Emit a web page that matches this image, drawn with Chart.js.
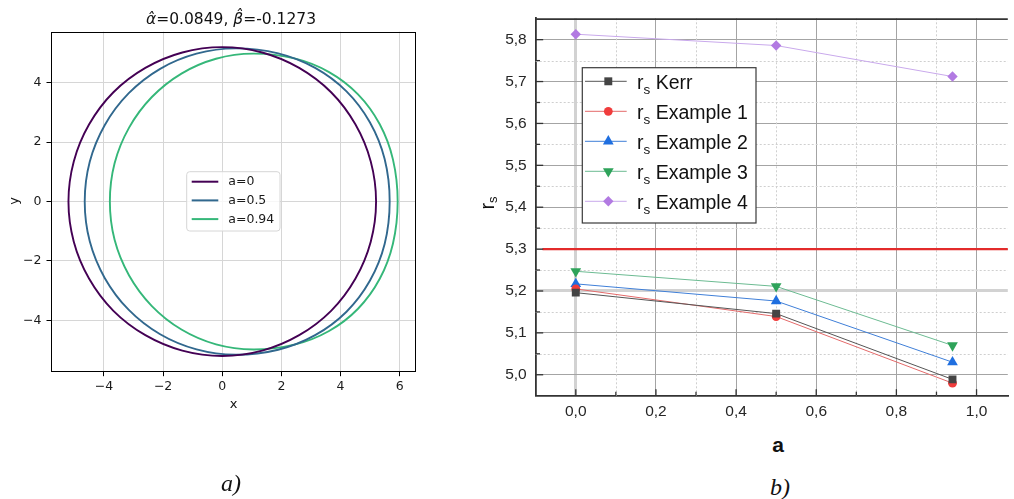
<!DOCTYPE html>
<html>
<head>
<meta charset="utf-8">
<style>
  html, body { margin: 0; padding: 0; background: #fff; }
  #page { position: relative; width: 1014px; height: 499px; overflow: hidden; }
  canvas { position: absolute; top: 0; }
  .lbl { position: absolute; white-space: nowrap; line-height: 1; transform: translate(-50%, -50%); color: #111; }
  .lbl sub { font-size: 65%; vertical-align: -0.25em; }
</style>
</head>
<body>
<div id="page">
  <canvas id="shadow" width="440" height="420" style="left:0"></canvas>
  <canvas id="radius" width="534" height="430" style="left:480px"></canvas>

  <div class="lbl" style="left:231px; top:19px; font: 15.5px 'DejaVu Sans'"><i>α̂</i>=0.0849, <i>β̂</i>=-0.1273</div>
  <div class="lbl" style="left:233.5px; top:403px; font: 13px 'DejaVu Sans'">x</div>
  <div class="lbl" style="left:12.5px; top:201px; font: 13px 'DejaVu Sans'; transform: translate(-50%,-50%) rotate(-90deg)">y</div>
  <div class="lbl" style="left:231px; top:483px; font: italic 24px 'Liberation Serif'">a)</div>

  <div class="lbl" style="left:488px; top:203px; font: 20px 'Liberation Sans'; transform: translate(-50%,-50%) rotate(-90deg)">r<sub>s</sub></div>
  <div class="lbl" style="left:778px; top:445px; font: bold 21px 'Liberation Sans'">a</div>
  <div class="lbl" style="left:780px; top:487px; font: italic 24px 'Liberation Serif'">b)</div>
</div>

<script src="https://cdn.jsdelivr.net/npm/chart.js"></script>
<script>
  // ---- left panel: shadow contours (x, y), closed curves ----
  const spinLabels = ['a=0', 'a=0.5', 'a=0.94'];

  const contourX_a0 = [5.2, 5.02, 4.5, 3.68, 2.6, 1.35, 0, -1.35, -2.6, -3.68, -4.5, -5.02, -5.2,
                       -5.02, -4.5, -3.68, -2.6, -1.35, 0, 1.35, 2.6, 3.68, 4.5, 5.02];
  const contourY_a0 = [0, 1.35, 2.6, 3.68, 4.5, 5.02, 5.2, 5.02, 4.5, 3.68, 2.6, 1.35, 0,
                       -1.35, -2.6, -3.68, -4.5, -5.02, -5.2, -5.02, -4.5, -3.68, -2.6, -1.35];

  const contourX_a05 = [5.66, 5.49, 4.99, 4.2, 3.14, 1.89, 0.45, -0.87, -2.1, -3.16, -3.97, -4.48, -4.65,
                        -4.48, -3.97, -3.16, -2.1, -0.87, 0.45, 1.89, 3.14, 4.2, 4.99, 5.49];
  const contourY_a05 = [0, 1.43, 2.67, 3.71, 4.5, 4.99, 5.16, 4.98, 4.47, 3.65, 2.58, 1.34, 0,
                        -1.34, -2.58, -3.65, -4.47, -4.98, -5.16, -4.99, -4.5, -3.71, -2.67, -1.43];

  const contourX_a094 = [5.93, 5.77, 5.32, 4.59, 3.61, 2.44, 1.05, -0.21, -1.38, -2.38, -3.15, -3.64, -3.8,
                         -3.64, -3.15, -2.38, -1.38, -0.21, 1.05, 2.44, 3.61, 4.59, 5.32, 5.77];
  const contourY_a094 = [0, 1.42, 2.61, 3.61, 4.36, 4.82, 4.98, 4.81, 4.31, 3.52, 2.49, 1.29, 0,
                         -1.29, -2.49, -3.52, -4.31, -4.81, -4.98, -4.82, -4.36, -3.61, -2.61, -1.42];

  const xTicksLeft = [-4, -2, 0, 2, 4, 6];
  const yTicksLeft = [-4, -2, 0, 2, 4];

  // ---- right panel: r_s against a ----
  const aValues = [0, 0.5, 0.94];
  const rsKerr = [5.196, 5.146, 4.989];
  const rsEx1 = [5.205, 5.139, 4.980];
  const rsEx2 = [5.217, 5.176, 5.030];
  const rsEx3 = [5.247, 5.211, 5.070];
  const rsEx4 = [5.813, 5.786, 5.712];
  const refA = [-0.083, 1.08];
  const refRs = [5.3, 5.3];

  const xTicksRight = [0, 0.2, 0.4, 0.6, 0.8, 1.0];
  const yTicksRight = [5.0, 5.1, 5.2, 5.3, 5.4, 5.5, 5.6, 5.7, 5.8];
  const xMinorRight = [0.1, 0.3, 0.5, 0.7, 0.9];
  const yMinorRight = [5.05, 5.15, 5.25, 5.35, 5.45, 5.55, 5.65, 5.75];

  const toPoints = (xs, ys) => xs.map((v, i) => ({ x: v, y: ys[i] }));
  const minus = v => String(v).replace('-', '\u2212');

  // ---------- left chart ----------
  const spinColors = ['#440154', '#31688e', '#35b779'];
  const contours = [[contourX_a0, contourY_a0], [contourX_a05, contourY_a05], [contourX_a094, contourY_a094]];

  // make each contour line a closed loop (as the radar chart does)
  const closeLoops = {
    id: 'closeLoops',
    afterDatasetsUpdate(chart) {
      chart.getSortedVisibleDatasetMetas().forEach(meta => {
        const line = meta.dataset;
        line._loop = true;
        line._fullLoop = true;
        line._pointsUpdated = false;
        delete line._segments;
        delete line._path;
      });
    }
  };

  const leftDecor = {
    id: 'leftDecor',
    afterDraw(chart) {
      const { ctx, chartArea: a } = chart;
      ctx.save();
      // frame
      ctx.strokeStyle = '#000';
      ctx.lineWidth = 1;
      ctx.strokeRect(Math.round(a.left) + 0.5, Math.round(a.top) + 0.5,
                     Math.round(a.right - a.left) - 1, Math.round(a.bottom - a.top) - 1);
      // legend box
      const bx = 186.7, by = 171.7, bw = 93.3, bh = 59.3, rr = 3;
      ctx.beginPath();
      ctx.moveTo(bx + rr, by);
      ctx.arcTo(bx + bw, by, bx + bw, by + bh, rr);
      ctx.arcTo(bx + bw, by + bh, bx, by + bh, rr);
      ctx.arcTo(bx, by + bh, bx, by, rr);
      ctx.arcTo(bx, by, bx + bw, by, rr);
      ctx.closePath();
      ctx.fillStyle = 'rgba(255,255,255,0.8)';
      ctx.fill();
      ctx.strokeStyle = '#d6d6d6';
      ctx.stroke();
      ctx.font = "12.5px 'DejaVu Sans'";
      ctx.textBaseline = 'middle';
      spinLabels.forEach((lab, i) => {
        const ly = 181.7 + i * 18.7;
        ctx.strokeStyle = spinColors[i];
        ctx.lineWidth = 2;
        ctx.beginPath();
        ctx.moveTo(191.7, ly);
        ctx.lineTo(218.3, ly);
        ctx.stroke();
        ctx.fillStyle = '#1a1a1a';
        ctx.fillText(lab, 228.3, ly + 0.5);
      });
      ctx.restore();
    }
  };

  new Chart(document.getElementById('shadow'), {
    type: 'scatter',
    data: {
      datasets: contours.map((c, i) => ({
        label: spinLabels[i],
        data: toPoints(c[0], c[1]),
        showLine: true,
        spanGaps: true,
        borderColor: spinColors[i],
        borderWidth: 1.9,
        pointRadius: 0,
        tension: 0.33
      }))
    },
    options: {
      responsive: false,
      animation: false,
      devicePixelRatio: 1,
      layout: { padding: { top: 31.7, right: 24, left: 0, bottom: 0 } },
      plugins: { legend: { display: false }, tooltip: { enabled: false } },
      scales: {
        x: {
          type: 'linear', min: -5.79, max: 6.55,
          afterFit: s => { s.height = 48.3; },
          afterBuildTicks: s => { s.ticks = xTicksLeft.map(v => ({ value: v })); },
          ticks: { color: '#1a1a1a', font: { family: 'DejaVu Sans', size: 12.5 }, padding: 3, callback: minus },
          grid: { color: '#d6d6d6', lineWidth: 1, tickColor: '#000', tickLength: 4.5, tickWidth: 1 },
          border: { display: false }
        },
        y: {
          type: 'linear', min: -5.73, max: 5.72,
          afterFit: s => { s.width = 51; },
          afterBuildTicks: s => { s.ticks = yTicksLeft.map(v => ({ value: v })); },
          ticks: { color: '#1a1a1a', font: { family: 'DejaVu Sans', size: 12.5 }, padding: 5, callback: minus },
          grid: { color: '#d6d6d6', lineWidth: 1, tickColor: '#000', tickLength: 4.5, tickWidth: 1 },
          border: { display: false }
        }
      }
    },
    plugins: [closeLoops, leftDecor]
  });

  // ---------- right chart ----------
  const seriesStyle = [
    { name: 'Kerr',      values: rsKerr, line: '#555555', fill: '#444444', shape: 'rect',     r: 5.6, rot: 0 },
    { name: 'Example 1', values: rsEx1,  line: '#e46a6a', fill: '#f03c3c', shape: 'circle',   r: 4.4, rot: 0 },
    { name: 'Example 2', values: rsEx2,  line: '#3f7fd8', fill: '#1f6fe0', shape: 'triangle', r: 6.2, rot: 0 },
    { name: 'Example 3', values: rsEx3,  line: '#6cbb92', fill: '#2ea35a', shape: 'triangle', r: 6.2, rot: 180 },
    { name: 'Example 4', values: rsEx4,  line: '#c9a9ec', fill: '#b27ae2', shape: 'rectRot',  r: 5.2, rot: 0 }
  ];

  function drawMarker(ctx, shape, x, y, r, rot) {
    ctx.beginPath();
    if (shape === 'rect') {
      const s = r * Math.SQRT1_2;
      ctx.rect(x - s, y - s, 2 * s, 2 * s);
    } else if (shape === 'circle') {
      ctx.arc(x, y, r, 0, Math.PI * 2);
    } else if (shape === 'triangle') {
      let ang = rot * Math.PI / 180;
      for (let k = 0; k < 3; k++) {
        const px = x + Math.sin(ang) * r, py = y - Math.cos(ang) * r;
        k ? ctx.lineTo(px, py) : ctx.moveTo(px, py);
        ang += Math.PI * 2 / 3;
      }
    } else {
      ctx.moveTo(x - r, y); ctx.lineTo(x, y - r); ctx.lineTo(x + r, y); ctx.lineTo(x, y + r);
    }
    ctx.closePath();
    ctx.fill();
  }

  const rightDecor = {
    id: 'rightDecor',
    beforeDatasetsDraw(chart) {
      const { ctx, chartArea: a, scales: { x, y } } = chart;
      ctx.save();
      ctx.setLineDash([2, 2]);
      ctx.strokeStyle = '#cfcfcf';
      ctx.lineWidth = 1;
      xMinorRight.forEach(v => {
        const px = Math.round(x.getPixelForValue(v)) + 0.5;
        ctx.beginPath(); ctx.moveTo(px, a.top); ctx.lineTo(px, a.bottom); ctx.stroke();
      });
      yMinorRight.forEach(v => {
        const py = Math.round(y.getPixelForValue(v)) + 0.5;
        ctx.beginPath(); ctx.moveTo(a.left, py); ctx.lineTo(a.right, py); ctx.stroke();
      });
      ctx.restore();
    },
    afterDatasetsDraw(chart) {
      const { ctx, chartArea: a, scales: { x, y } } = chart;
      ctx.save();
      // inward ticks
      ctx.strokeStyle = '#333';
      ctx.lineWidth = 1.3;
      const tick = (x0, y0, x1, y1) => { ctx.beginPath(); ctx.moveTo(x0, y0); ctx.lineTo(x1, y1); ctx.stroke(); };
      xTicksRight.forEach(v => { const px = x.getPixelForValue(v); tick(px, a.bottom, px, a.bottom - 6.5); });
      xMinorRight.forEach(v => { const px = x.getPixelForValue(v); tick(px, a.bottom, px, a.bottom - 4); });
      yTicksRight.forEach(v => { const py = y.getPixelForValue(v); tick(a.left, py, a.left + 7.5, py); });
      yMinorRight.forEach(v => { const py = y.getPixelForValue(v); tick(a.left, py, a.left + 4.3, py); });
      // top border
      ctx.lineWidth = 1.6;
      tick(a.left, a.top + 0.8, a.right, a.top + 0.8);

      // legend
      const bx = 102.3, by = 67.7, bw = 173.7, bh = 155.3;
      ctx.fillStyle = '#fff';
      ctx.fillRect(bx, by, bw, bh);
      ctx.strokeStyle = '#3a3a3a';
      ctx.lineWidth = 1.2;
      ctx.strokeRect(bx, by, bw, bh);
      seriesStyle.forEach((s, i) => {
        const base = 89.3 + i * 30;
        const my = base - 8;
        ctx.strokeStyle = s.line;
        ctx.lineWidth = 1;
        tick(105, my, 146.7, my);
        ctx.fillStyle = s.fill;
        drawMarker(ctx, s.shape, 128.3, my, s.r, s.rot);
        ctx.fillStyle = '#111';
        ctx.textBaseline = 'alphabetic';
        ctx.font = "19.5px 'Liberation Sans'";
        let tx = 157;
        ctx.fillText('r', tx, base);
        tx += ctx.measureText('r').width;
        ctx.font = "13.5px 'Liberation Sans'";
        ctx.fillText('s', tx, base + 4.7);
        tx += ctx.measureText('s').width;
        ctx.font = "19.5px 'Liberation Sans'";
        ctx.fillText(' ' + s.name, tx, base);
      });
      ctx.restore();
    }
  };

  const isVal = (ctx, v) => ctx.tick && Math.abs(ctx.tick.value - v) < 1e-6;

  new Chart(document.getElementById('radius'), {
    type: 'scatter',
    data: {
      datasets: [
        {
          label: 'limit',
          data: toPoints(refA, refRs),
          showLine: true,
          borderColor: '#e32b2b',
          borderWidth: 2.3,
          pointRadius: 0
        },
        ...seriesStyle.map(s => ({
          label: 'r_s ' + s.name,
          data: toPoints(aValues, s.values),
          showLine: true,
          borderColor: s.line,
          borderWidth: 1,
          pointStyle: s.shape,
          pointRotation: s.rot,
          pointRadius: s.r,
          pointBackgroundColor: s.fill,
          pointBorderWidth: 0
        }))
      ]
    },
    options: {
      responsive: false,
      animation: false,
      devicePixelRatio: 1,
      layout: { padding: { top: 1.7, right: 0, left: 0, bottom: 0 } },
      plugins: { legend: { display: false }, tooltip: { enabled: false } },
      scales: {
        x: {
          type: 'linear', min: -0.1, max: 1.078,
          afterFit: s => { s.height = 34.3; },
          afterBuildTicks: s => { s.ticks = xTicksRight.map(v => ({ value: v })); },
          ticks: {
            color: '#262626', padding: 7,
            font: { family: 'Liberation Sans', size: 15.5 },
            callback: v => v.toFixed(1).replace('.', ',')
          },
          grid: {
            drawTicks: false,
            color: c => isVal(c, 0) ? '#d2d2d2' : '#a4a4a4',
            lineWidth: c => isVal(c, 0) ? 3 : 1
          },
          border: { color: '#333', width: 1.8 }
        },
        y: {
          type: 'linear', min: 4.95, max: 5.851,
          afterFit: s => { s.width = 55.7; },
          afterBuildTicks: s => { s.ticks = yTicksRight.map(v => ({ value: v })); },
          ticks: {
            color: '#262626', padding: 9,
            font: { family: 'Liberation Sans', size: 15.5 },
            callback: v => v.toFixed(1).replace('.', ',')
          },
          grid: {
            drawTicks: false,
            color: c => isVal(c, 5.2) ? '#d2d2d2' : '#a4a4a4',
            lineWidth: c => isVal(c, 5.2) ? 3 : 1
          },
          border: { color: '#333', width: 1.8 }
        }
      }
    },
    plugins: [rightDecor]
  });
</script>
</body>
</html>
